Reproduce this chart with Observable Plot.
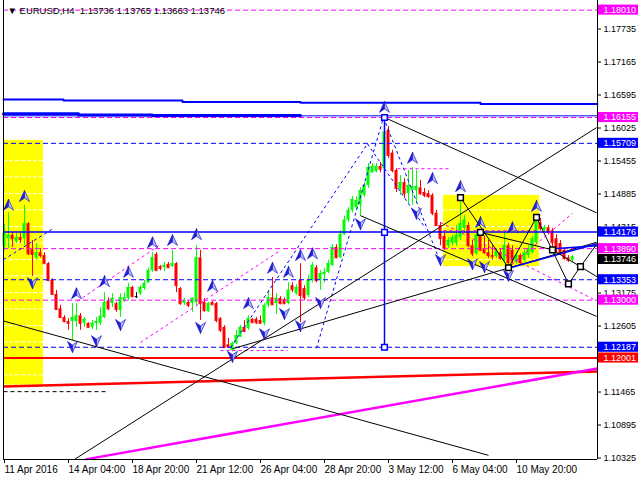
<!DOCTYPE html>
<html><head><meta charset="utf-8">
<script src="https://cdn.jsdelivr.net/npm/d3@7"></script>
<script src="https://cdn.jsdelivr.net/npm/@observablehq/plot@0.6"></script>
<style>
html,body{margin:0;padding:0;background:#fff;}
#chart svg{display:block;}
</style></head><body><div id="chart"></div>
<script>
// ---------- data ----------
const symbolName = "EURUSD,H4";
const headerPrices = ["1.13736", "1.13765", "1.13663", "1.13746"];

// H4 bars [open, high, low, close], bar index = position in array
const bars = [
[1.1393,1.1431,1.1386,1.1415],[1.1406,1.1451,1.1389,1.1412],[1.1412,1.1417,1.1391,1.1406],[1.1401,1.1415,1.1398,1.1408],
[1.1408,1.1415,1.1398,1.1405],[1.1406,1.1464,1.1394,1.1432],[1.1432,1.1434,1.1377,1.1380],[1.1387,1.1403,1.1341,1.1379],
[1.1373,1.1398,1.1369,1.1382],[1.1382,1.1389,1.1373,1.1377],[1.1377,1.1382,1.1363,1.1363],[1.1363,1.1365,1.1332,1.1334],
[1.1334,1.1337,1.1308,1.1310],[1.1310,1.1317,1.1282,1.1284],[1.1285,1.1291,1.1268,1.1270],[1.1270,1.1273,1.1261,1.1263],
[1.1263,1.1268,1.1248,1.1260],[1.1263,1.1294,1.1230,1.1270],[1.1263,1.1294,1.1253,1.1273],[1.1273,1.1277,1.1248,1.1260],
[1.1260,1.1270,1.1253,1.1267],[1.1260,1.1261,1.1251,1.1253],[1.1253,1.1265,1.1249,1.1260],[1.1260,1.1270,1.1248,1.1263],
[1.1260,1.1287,1.1256,1.1272],[1.1270,1.1313,1.1268,1.1296],[1.1298,1.1304,1.1282,1.1285],[1.1294,1.1311,1.1287,1.1303],
[1.1294,1.1296,1.1279,1.1284],[1.1282,1.1311,1.1270,1.1304],[1.1299,1.1313,1.1296,1.1304],[1.1303,1.1329,1.1299,1.1322],
[1.1322,1.1324,1.1304,1.1306],[1.1306,1.1313,1.1303,1.1306],[1.1311,1.1325,1.1308,1.1322],[1.1320,1.1334,1.1317,1.1329],
[1.1330,1.1355,1.1329,1.1351],[1.1351,1.1382,1.1348,1.1373],[1.1379,1.1382,1.1351,1.1351],[1.1358,1.1360,1.1351,1.1355],
[1.1356,1.1365,1.1349,1.1360],[1.1362,1.1365,1.1355,1.1356],[1.1358,1.1386,1.1356,1.1363],[1.1363,1.1365,1.1313,1.1325],
[1.1320,1.1322,1.1291,1.1294],[1.1294,1.1303,1.1291,1.1299],[1.1296,1.1299,1.1287,1.1291],[1.1294,1.1304,1.1279,1.1303],
[1.1296,1.1394,1.1291,1.1373],[1.1373,1.1386,1.1265,1.1294],[1.1296,1.1303,1.1279,1.1282],[1.1280,1.1296,1.1279,1.1294],
[1.1296,1.1298,1.1291,1.1292],[1.1294,1.1296,1.1261,1.1265],[1.1268,1.1270,1.1244,1.1248],[1.1253,1.1256,1.1217,1.1218],
[1.1223,1.1234,1.1217,1.1220],[1.1213,1.1227,1.1211,1.1225],[1.1225,1.1248,1.1223,1.1239],[1.1236,1.1256,1.1236,1.1253],
[1.1253,1.1265,1.1244,1.1246],[1.1251,1.1273,1.1248,1.1268],[1.1267,1.1268,1.1260,1.1261],[1.1267,1.1270,1.1258,1.1261],
[1.1265,1.1273,1.1260,1.1260],[1.1260,1.1294,1.1256,1.1291],[1.1291,1.1317,1.1287,1.1304],[1.1304,1.1339,1.1291,1.1292],
[1.1294,1.1311,1.1275,1.1303],[1.1303,1.1306,1.1292,1.1294],[1.1301,1.1304,1.1292,1.1294],[1.1294,1.1330,1.1292,1.1317],
[1.1325,1.1330,1.1313,1.1318],[1.1311,1.1327,1.1308,1.1322],[1.1334,1.1363,1.1261,1.1308],[1.1320,1.1325,1.1299,1.1304],
[1.1308,1.1343,1.1304,1.1334],[1.1334,1.1365,1.1330,1.1360],[1.1356,1.1360,1.1330,1.1334],[1.1334,1.1351,1.1317,1.1346],
[1.1344,1.1355,1.1330,1.1348],[1.1348,1.1369,1.1346,1.1363],[1.1360,1.1396,1.1358,1.1391],[1.1391,1.1396,1.1372,1.1373],
[1.1373,1.1420,1.1372,1.1413],[1.1413,1.1445,1.1412,1.1438],[1.1438,1.1460,1.1434,1.1455],[1.1455,1.1479,1.1451,1.1474],
[1.1460,1.1479,1.1455,1.1472],[1.1464,1.1494,1.1445,1.1489],[1.1481,1.1503,1.1477,1.1498],[1.1498,1.1536,1.1493,1.1529],
[1.1520,1.1536,1.1519,1.1531],[1.1522,1.1536,1.1520,1.1531],[1.1531,1.1538,1.1520,1.1526],[1.1527,1.16155,1.1524,1.1590],
[1.1593,1.1600,1.1545,1.1550],[1.1554,1.1559,1.1520,1.1524],[1.1524,1.1527,1.1486,1.1493],[1.1491,1.1515,1.1481,1.1503],
[1.1503,1.1510,1.1476,1.1484],[1.1484,1.1524,1.1467,1.1498],[1.1489,1.1529,1.1464,1.1496],[1.1489,1.1524,1.1467,1.1496],
[1.1494,1.1507,1.1481,1.1484],[1.1486,1.1493,1.1477,1.1481],[1.1484,1.1489,1.1476,1.1479],[1.1481,1.1484,1.1446,1.1450],
[1.1450,1.1455,1.1427,1.1429],[1.1429,1.1434,1.1394,1.1406],[1.1410,1.1415,1.1386,1.1389],[1.1394,1.1408,1.1389,1.1403],
[1.1398,1.1412,1.1393,1.1408],[1.1398,1.1429,1.1393,1.1412],[1.1408,1.1477,1.1403,1.1432],[1.1424,1.1446,1.1417,1.1438],
[1.1429,1.1434,1.1391,1.1394],[1.1394,1.1403,1.1375,1.1380],[1.1380,1.1417,1.1377,1.1412],[1.1413,1.1417,1.1384,1.1386],
[1.1389,1.1410,1.1379,1.1382],[1.1382,1.1403,1.1372,1.1377],[1.1377,1.1394,1.1369,1.1375],[1.1375,1.1389,1.1372,1.1384],
[1.1382,1.1389,1.1369,1.1372],[1.1369,1.1417,1.1363,1.1394],[1.1394,1.1398,1.1356,1.1365],[1.1386,1.1394,1.1363,1.1369],
[1.1365,1.1382,1.1362,1.1377],[1.1377,1.1380,1.1362,1.1365],[1.1369,1.1386,1.1365,1.1382],[1.1377,1.1394,1.1372,1.1389],
[1.1382,1.1410,1.1379,1.1406],[1.1399,1.1445,1.1396,1.1438],[1.1434,1.1441,1.1420,1.1424],[1.1420,1.1429,1.1417,1.1425],
[1.1425,1.1429,1.1413,1.1417],[1.1420,1.1424,1.1387,1.1399],[1.1406,1.1413,1.1382,1.1391],[1.1398,1.1403,1.1377,1.1380],
[1.1386,1.1389,1.1369,1.1372],[1.1373,1.1377,1.1365,1.1369],[1.1369,1.1377,1.1365,1.13746]
];

const xTickIndex = [0, 16, 32, 48, 64, 80, 96, 112, 128];
const xTickLabels = ["11 Apr 2016", "14 Apr 04:00", "18 Apr 20:00", "21 Apr 12:00", "26 Apr 04:00",
  "28 Apr 20:00", "3 May 12:00", "6 May 04:00", "10 May 20:00"];
const yTicks = [1.17735, 1.17165, 1.16595, 1.16025, 1.15455, 1.14885, 1.14315, 1.13175, 1.12605, 1.11465, 1.10895, 1.10325];

// horizontal levels
const magentaLevels = [1.18010, 1.16155, 1.13890, 1.13000];
const blueDashLevels = [1.15709, 1.13353, 1.12187];
const blueSolidLevels = [1.14176];
const redLevels = [1.12001];
const bidPrice = 1.13746;
const thinBlueLevel = 1.16184;

// highlighted zones [bar1, bar2, priceLow, priceHigh]
const zones = [[-0.25, 9.75, 1.1153, 1.1576], [109.75, 133.75, 1.1358, 1.1481]];
const gridPrices = [1.1541, 1.1513, 1.1484, 1.1456, 1.1427, 1.1399, 1.1370, 1.1342, 1.1313, 1.1285, 1.1256, 1.1228, 1.1171];

// step lines near top [bar, price]
const topBlueSteps = [[-0.25, 1.16466], [14.75, 1.16449], [44.5, 1.16423], [74, 1.16409], [119, 1.16388], [148.25, 1.16388]];
const thickBlueSteps = [[-0.25, 1.1622], [18.5, 1.1620], [37, 1.1619], [74, 1.1619]];

// trend lines [bar1, price1, bar2, price2]
const blackTrends = [
  [-0.25, 1.1264, 121, 1.1032],
  [17.5, 1.1025, 148, 1.1598],
  [57, 1.1216, 148, 1.1400],
  [95, 1.16155, 148, 1.1451],
  [89, 1.1446, 148, 1.1272]
];
const redTrend = [[-0.25, 1.1151, 148.25, 1.1177]];
const magentaTrend = [[20.25, 1.1025, 148.25, 1.1182]];
const blackDashed = [[-0.25, 1.1142, 25.25, 1.1142]];
const blueDashedDiag = [
  [-0.25, 1.1370, 12.25, 1.1424],
  [56.5, 1.1218, 90.75, 1.1570],
  [78, 1.1217, 94.75, 1.16155],
  [94.75, 1.16155, 109, 1.1365],
  [90.75, 1.1570, 105.25, 1.1424]
];
const blueSolidDiag = [[126, 1.1355, 148.25, 1.1398], [137, 1.1389, 148.25, 1.1394]];
const magentaDashedDiag = [
  [18.25, 1.1298, 38.5, 1.1394],
  [34, 1.1227, 69, 1.1386],
  [54, 1.1213, 70.75, 1.1213],
  [98.25, 1.1527, 111.5, 1.1527],
  [109.75, 1.1420, 134, 1.1420],
  [109, 1.1434, 148, 1.1299],
  [125.75, 1.1355, 142, 1.1450]
];

// wave markup
const verticalBar = 95;
const verticalPrices = [1.16155, 1.14171, 1.12187];
const wavePoints = [[114, 1.1477], [119, 1.1417], [126, 1.1356], [133, 1.1443], [137, 1.1387], [141, 1.1328], [144, 1.1358]];
const waveLinks = [
  [114, 1.1477, 126, 1.1356], [126, 1.1356, 133, 1.1443], [133, 1.1443, 141, 1.1328],
  [141, 1.1328, 144, 1.1358], [144, 1.1358, 148, 1.1396], [119, 1.1417, 137, 1.1387],
  [137, 1.1387, 148.25, 1.1340]
];

// fractal arrows [bar, price]
const fractalUp = [[1,1.1464],[5,1.1479],[18,1.1311],[25,1.1332],[31,1.1348],[37,1.1399],[42,1.1403],[48,1.1413],
  [52,1.1324],[61,1.1294],[67,1.1355],[71,1.1348],[74,1.1377],[77,1.1380],[95,1.1633],[102,1.1545],[107,1.1510],
  [114,1.1496],[119,1.1434],[127,1.1425],[133,1.1462]];
const fractalDown = [[7,1.1330],[17,1.1220],[23,1.1230],[29,1.1258],[49,1.1253],[57,1.1203],[65,1.1242],[70,1.1277],
  [74,1.1256],[79,1.1296],[89,1.1432],[103,1.1450],[109,1.1370],[117,1.1363],[120,1.1358],[126,1.1343]];

// ---------- chart ----------
const xDomain = [-0.25, 148.25];
const yDomain = [1.10248, 1.18176];
const GREEN = "#00ff00", RED = "#ff0000", BLUE = "#0000ff", MAGENTA = "#ff00ff", YELLOW = "#ffff00";

const candles = bars.map((d, i) => ({i, o: d[0], h: d[1], l: d[2], c: d[3]}));
const candleColor = d => d.c > d.o ? GREEN : d.c < d.o ? RED : "#000000";

const gridSegs = zones.flatMap(z => gridPrices.filter(p => p > z[2] && p < z[3]).map(p => ({p, x1: z[0], x2: z[1]})));

const labelItems = [
  ...magentaLevels.map(p => ({p, fill: MAGENTA})),
  ...blueDashLevels.map(p => ({p, fill: BLUE})),
  ...blueSolidLevels.map(p => ({p, fill: BLUE})),
  ...redLevels.map(p => ({p, fill: RED}))
];

const arrowShape = (dir, side) => ({
  draw(ctx) {
    const s = dir;
    ctx.moveTo(0, -6 * s);
    ctx.lineTo(5 * side, 5 * s);
    ctx.lineTo(0, 1.5 * s);
    ctx.closePath();
  }
});

const lk = {x1: d => d[0], y1: d => d[1], x2: d => d[2], y2: d => d[3]};
const labelHalf = 0.00087;

const chart = Plot.plot({
  width: 640, height: 480,
  marginLeft: 3, marginRight: 43, marginTop: 0, marginBottom: 21,
  x: {domain: xDomain, axis: null, label: null},
  y: {domain: yDomain, axis: null, label: null},
  style: {fontFamily: "'Liberation Sans', Arial, sans-serif", fontSize: "9px", background: "#ffffff", overflow: "visible"},
  marks: [
    Plot.rect(zones, {x1: d => d[0], x2: d => d[1], y1: d => d[2], y2: d => d[3], fill: YELLOW}),
    Plot.ruleY(gridSegs, {y: "p", x1: "x1", x2: "x2", stroke: "#ffffff", strokeDasharray: "4,2"}),
    // candles
    Plot.ruleX(candles, {x: "i", y1: "l", y2: "h", stroke: candleColor, strokeWidth: 1}),
    Plot.rect(candles, {x1: d => d.i - 0.375, x2: d => d.i + 0.375, y1: "o", y2: "c", fill: candleColor}),
    Plot.ruleY(candles, {y: "c", x1: d => d.i - 0.375, x2: d => d.i + 0.375, stroke: candleColor}),
    // horizontal levels
    Plot.ruleY(magentaLevels, {stroke: MAGENTA, strokeDasharray: "5,3"}),
    Plot.ruleY(blueDashLevels, {stroke: BLUE, strokeDasharray: "5,3"}),
    Plot.ruleY(blueSolidLevels, {stroke: BLUE, strokeWidth: 1.5}),
    Plot.ruleY(redLevels, {stroke: RED, strokeWidth: 2}),
    Plot.ruleY([thinBlueLevel], {stroke: BLUE, strokeWidth: 1}),
    Plot.line(topBlueSteps, {x: d => d[0], y: d => d[1], curve: "step-after", stroke: BLUE, strokeWidth: 2}),
    Plot.line(thickBlueSteps, {x: d => d[0], y: d => d[1], curve: "step-after", stroke: BLUE, strokeWidth: 3}),
    // sloped lines
    Plot.link(redTrend, {...lk, stroke: RED, strokeWidth: 2.5}),
    Plot.link(magentaTrend, {...lk, stroke: MAGENTA, strokeWidth: 2.5}),
    Plot.link(blackDashed, {...lk, stroke: "#000", strokeDasharray: "4,3"}),
    Plot.link(blueDashedDiag, {...lk, stroke: BLUE, strokeDasharray: "3,3"}),
    Plot.link(magentaDashedDiag, {...lk, stroke: MAGENTA, strokeDasharray: "3,3"}),
    Plot.link(blackTrends, {...lk, stroke: "#000", strokeWidth: 1}),
    Plot.link(blueSolidDiag, {...lk, stroke: BLUE, strokeWidth: 1.5}),
    Plot.link(waveLinks, {...lk, stroke: "#000", strokeWidth: 1}),
    // vertical measurement
    Plot.ruleX([verticalBar], {y1: verticalPrices[2], y2: verticalPrices[0], stroke: BLUE, strokeWidth: 1.5}),
    Plot.dot(verticalPrices, {x: () => verticalBar, y: d => d, symbol: "square", r: 3.2, fill: "#fff", stroke: BLUE}),
    Plot.dot(wavePoints, {x: d => d[0], y: d => d[1], symbol: "square", r: 3.2, fill: "#fff", stroke: "#000"}),
    // fractal arrows
    Plot.dot(fractalUp, {x: d => d[0], y: d => d[1], symbol: arrowShape(1, -1), r: 5, fill: "#2222dd", stroke: "#0000c0", strokeWidth: 0.6}),
    Plot.dot(fractalUp, {x: d => d[0], y: d => d[1], symbol: arrowShape(1, 1), r: 5, fill: "#b8b8ff", stroke: "#0000c0", strokeWidth: 0.6}),
    Plot.dot(fractalDown, {x: d => d[0], y: d => d[1], symbol: arrowShape(-1, -1), r: 5, fill: "#2222dd", stroke: "#0000c0", strokeWidth: 0.6}),
    Plot.dot(fractalDown, {x: d => d[0], y: d => d[1], symbol: arrowShape(-1, 1), r: 5, fill: "#b8b8ff", stroke: "#0000c0", strokeWidth: 0.6}),
    // borders and axes
    Plot.ruleX([xDomain[0]], {stroke: "#000"}),
    Plot.ruleX([xDomain[1]], {stroke: "#000"}),
    Plot.ruleY([yDomain[0]], {stroke: "#000"}),
    Plot.axisY(yTicks, {anchor: "right", tickSize: 3, tickPadding: 3, tickFormat: d => d.toFixed(5), fontSize: 9, dy: 3, label: null}),
    Plot.axisX(xTickIndex, {anchor: "bottom", tickSize: 4, tickPadding: 2, tickFormat: d => xTickLabels[xTickIndex.indexOf(d)], textAnchor: "start", fontSize: 10, label: null}),
    // right price labels
    Plot.rect(labelItems, {x1: () => 148.5, x2: () => 158.5, y1: d => d.p - labelHalf, y2: d => d.p + labelHalf, fill: d => d.fill}),
    Plot.text(labelItems, {x: () => 148.5, y: "p", text: d => d.p.toFixed(5), fill: "#fff", textAnchor: "start", dx: 5, fontSize: 9}),
    Plot.rect([bidPrice], {x1: () => 148.5, x2: () => 158.5, y1: d => d - labelHalf, y2: d => d + labelHalf, fill: "#000", dy: 2.5}),
    Plot.text([bidPrice], {x: () => 148.5, y: d => d, text: d => d.toFixed(5), fill: "#fff", textAnchor: "start", dx: 5, dy: 2.5, fontSize: 9}),
    // header
    Plot.text([`\u25BC ${symbolName}  ${headerPrices.join(" ")}`], {frameAnchor: "top-left", dx: 4, dy: 10, textAnchor: "start", lineAnchor: "middle", fontSize: 9.5, fill: "#000"})
  ]
});
document.getElementById("chart").appendChild(chart);
</script>
</body></html>
